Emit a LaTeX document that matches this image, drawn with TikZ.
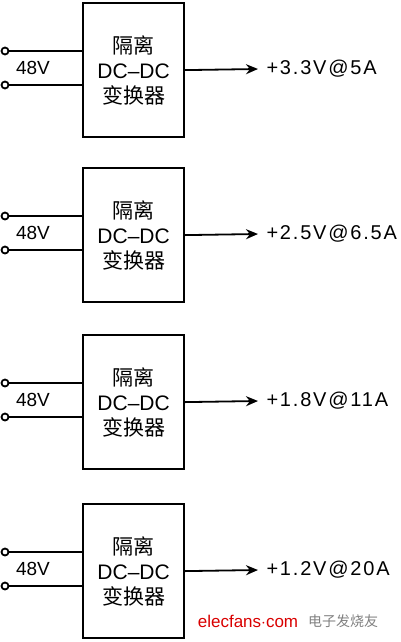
\documentclass[tikz,border=0pt]{standalone}
\usepackage{fontspec}
\setmainfont{Liberation Sans}
\newfontfamily\cjk{Noto Sans CJK SC}
\usetikzlibrary{arrows.meta,positioning}

\begin{document}
\begin{tikzpicture}[
      x=1pt, y=-1pt,
      conv/.style={draw, line width=2.2pt, minimum width=101pt, minimum height=134pt,
        inner sep=0pt, align=center, font=\fontsize{21}{25}\selectfont},
      term/.style={circle, draw, line width=1.8pt, minimum size=7pt, inner sep=0pt},
      wire/.style={line width=1.8pt},
      outwire/.style={wire, -{Stealth[length=12pt,width=10pt]}},
      vlabel/.style={font=\fontsize{20}{22}\selectfont\addfontfeature{LetterSpace=9}}
    ]
    \useasboundingbox (0,0) rectangle (400,642);
    \foreach \i/\y/\v in {1/2/{+3.3V@5A}, 2/167/{+2.5V@6.5A},
                          3/334/{+1.8V@11A}, 4/503/{+1.2V@20A}} {
      \node (box\i) [conv, anchor=north west] at (82,\y)
        {{\cjk 隔离}\\DC--DC\\{\cjk 变换器}};
      \node (p\i) [term] at (5,\y+49) {};
      \node (n\i) [term] at (5,\y+83) {};
      \node (in\i) at (33,\y+66) {\fontsize{19}{20}\selectfont 48V};
      \draw [wire] (p\i) -- (p\i -| box\i.west);
      \draw [wire] (n\i) -- (n\i -| box\i.west);
      \coordinate (tip\i) at (258,\y+67);
      \draw [outwire] (box\i.east) -- (tip\i);
      \node (lbl\i) [vlabel, right=5pt of tip\i] {\v};
    }
    % watermark
    \node (wm) at (248,621) {\fontsize{17}{18}\selectfont\color{red!85!black}elecfans$\cdot$com};
    \node (wmcn) [right=3pt of wm] {\fontsize{14}{16}\selectfont\cjk\color{gray}电子发烧友};
  \end{tikzpicture}
\end{document}
